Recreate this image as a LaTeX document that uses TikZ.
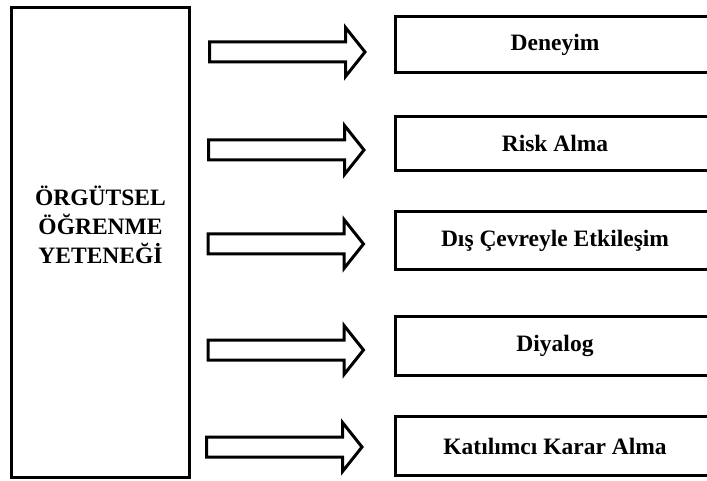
\documentclass[tikz,border=0pt]{standalone}
\usepackage{fontspec}
\setmainfont{Liberation Serif}
\tikzset{
  box/.style={draw, line width=3pt, inner sep=0pt, align=center,
    font=\bfseries\fontsize{23.5}{29}\selectfont},
  lbl/.style={inner sep=0pt, align=center, font=\bfseries\fontsize{23.5}{29}\selectfont},
  blockarrow/.style={draw, line width=3pt, miter limit=10, fill=white}
}
\newcommand\blkarrow[2]{%
  \draw[blockarrow] ({209.5+#2},{#1-10}) -- ({345.5+#2},{#1-10}) -- ({345.5+#2},{#1-24.5})
    -- ({365+#2},{#1}) -- ({345.5+#2},{#1+24.5}) -- ({345.5+#2},{#1+10})
    -- ({209.5+#2},{#1+10}) -- cycle;}
\begin{document}
\begin{tikzpicture}[x=1pt,y=-1pt]
\useasboundingbox (0,0) rectangle (707,481);
\clip (0,0) rectangle (707,481);
\fill[white] (0,0) rectangle (707,481);
% main box
\node[box, minimum width=178, minimum height=470] (main) at (100.5,242.5) {};
\node[lbl] (maintext) at (100.5,225) {ÖRGÜTSEL\\ÖĞRENME\\YETENEĞİ};
% right boxes
\node[box, minimum width=319, minimum height=56] (b1) at (555,44.5) {Deneyim};
\node[box, minimum width=319, minimum height=54] (b2) at (555,143.5) {Risk Alma};
\node[box, minimum width=319, minimum height=58] (b3) at (555,240.5) {Dış Çevreyle Etkileşim};
\node[box, minimum width=319, minimum height=59] (b4) at (555,346) {Diyalog};
\node[box, minimum width=319, minimum height=59] (b5) at (555,446) {Katılımcı Karar Alma};
% block arrows
\blkarrow{52}{0}
\blkarrow{150}{-1}
\blkarrow{244}{-1.5}
\blkarrow{350}{-1.5}
\blkarrow{447}{-3}
\end{tikzpicture}
\end{document}
